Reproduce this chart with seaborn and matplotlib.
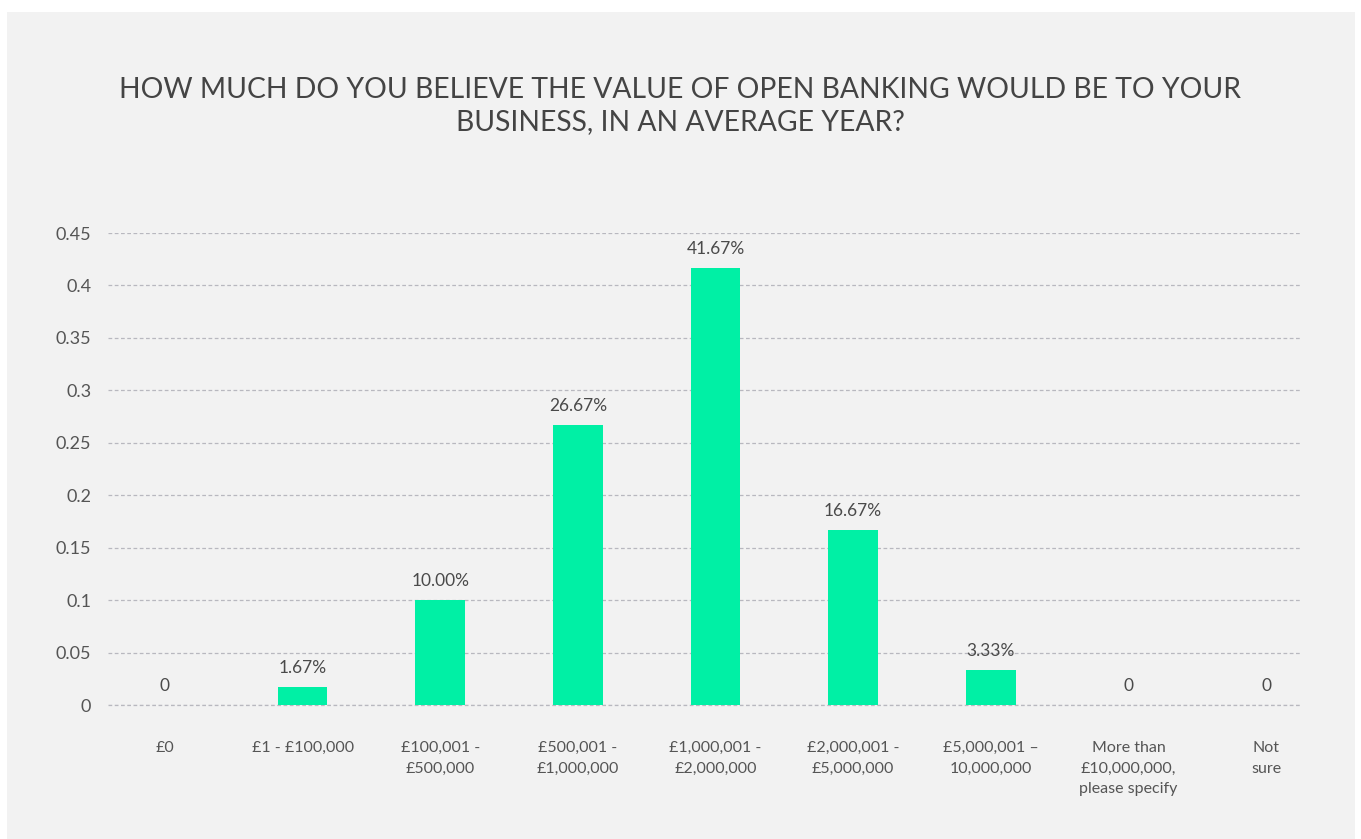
import matplotlib
matplotlib.use("Agg")
import pandas as pd
import seaborn as sns
from matplotlib import pyplot as plt
from matplotlib.patches import Rectangle

# values
categories = ["£0", "£1 - £100,000", "£100,001 -\n£500,000", "£500,001 -\n£1,000,000",
              "£1,000,001 -\n£2,000,000", "£2,000,001 -\n£5,000,000",
              "£5,000,001 –\n10,000,000", "More than\n£10,000,000,\nplease specify", "Not\nsure"]
shares = [0, 0.0167, 0.10, 0.2667, 0.4167, 0.1667, 0.0333, 0, 0]
bar_labels = ["0", "1.67%", "10.00%", "26.67%", "41.67%", "16.67%", "3.33%", "0", "0"]

df = pd.DataFrame({"category": categories, "share": shares})

sns.set_theme(style="white")
plt.rcParams["font.family"] = ["Lato", "DejaVu Sans"]

fig = plt.figure(figsize=(13.61, 8.39), dpi=100, facecolor="white")
# grey panel behind everything
fig.patches.append(Rectangle((7 / 1361, 0), 1348 / 1361, 1 - 12 / 839,
                             transform=fig.transFigure, facecolor="#f2f2f2",
                             edgecolor="none", zorder=-5))

ax = fig.add_axes([108 / 1361, 1 - 705 / 839, 1192 / 1361, 472 / 839])
ax.set_facecolor("none")

sns.barplot(data=df, x="category", y="share", order=categories,
            color="#00f0a5", saturation=1, width=0.36, linewidth=0, ax=ax, zorder=3)

for i, (v, lab) in enumerate(zip(shares, bar_labels)):
    ax.annotate(lab, (i, v), xytext=(0, 8), textcoords="offset points",
                ha="center", va="bottom", fontsize=12.5, color="#4a4a4a")

ax.set_ylim(0, 0.45)
ax.set_xlim(-0.414, 8.247)
ax.set_yticks([0, 0.05, 0.1, 0.15, 0.2, 0.25, 0.3, 0.35, 0.4, 0.45])
ax.set_yticklabels(["0", "0.05", "0.1", "0.15", "0.2", "0.25", "0.3", "0.35", "0.4", "0.45"])
ax.yaxis.grid(True, linestyle=(0, (3, 2)), color="#b8b8bf", linewidth=0.9)
ax.set_axisbelow(True)
for s in ax.spines.values():
    s.set_visible(False)
ax.tick_params(axis="y", length=0, pad=12, labelsize=13, labelcolor="#555555")
ax.tick_params(axis="x", length=0, pad=26, labelsize=11.5, labelcolor="#555555")
for t in ax.get_xticklabels():
    t.set_linespacing(1.6)
ax.set_xlabel("")
ax.set_ylabel("")
# gridline at 0 sits on the axes edge
ax.axhline(0, linestyle=(0, (3, 2)), color="#b8b8bf", linewidth=0.9, zorder=1, clip_on=False)

fig.text(680 / 1361, 1 - 106 / 839,
         "HOW MUCH DO YOU BELIEVE THE VALUE OF OPEN BANKING WOULD BE TO YOUR\nBUSINESS, IN AN AVERAGE YEAR?",
         ha="center", va="center", fontsize=20.3, color="#444444",
         linespacing=1.3)

fig.savefig("out.png", dpi=100, facecolor="white")
